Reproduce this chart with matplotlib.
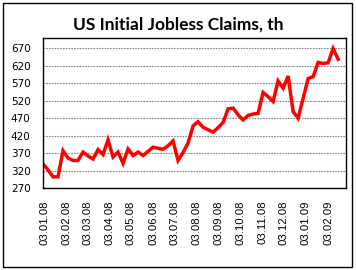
import matplotlib
matplotlib.use("Agg")
import matplotlib.pyplot as plt
import matplotlib.dates as mdates
from matplotlib.patches import Rectangle
import pandas as pd

# weekly initial jobless claims, thousands
claims = [339, 322, 302, 302, 377, 356, 349, 349, 373, 362, 353, 380, 366, 408,
          359, 373, 341, 382, 363, 373, 363, 375, 387, 384, 381, 391, 405,
          349, 372, 399, 448, 460, 444, 437, 430, 443, 458, 497, 499, 480, 465,
          478, 482, 484, 544, 532, 518, 577, 556, 591, 489, 470, 527, 584, 589,
          630, 627, 629, 670, 639]
weeks = pd.date_range("2008-01-01", periods=len(claims), freq="7D")
tick_dates = pd.date_range("2008-01-01", "2009-02-01", freq="MS") + pd.Timedelta(days=2)
y_ticks = list(range(270, 671, 50))

fig = plt.figure(figsize=(3.56, 2.70), dpi=100)
fig.patches.append(Rectangle((3 / 356, 3 / 270), 349 / 356, 264 / 270,
                             transform=fig.transFigure, fill=False,
                             edgecolor="black", linewidth=1))

ax = fig.add_axes([43 / 356, 82 / 270, 303 / 356, 150 / 270])
ax.plot(weeks, claims, color="#ff0000", linewidth=2.5, solid_joinstyle="miter")

ax.set_ylim(270, 700)
ax.set_yticks(y_ticks)
ax.set_xlim(pd.Timestamp("2008-01-01"), pd.Timestamp("2009-02-28"))
ax.set_xticks(tick_dates)
ax.xaxis.set_major_formatter(mdates.DateFormatter("%d.%m.%y"))

ax.grid(axis="y", color="#888888", linestyle=(0, (1.5, 1)), linewidth=0.8)
ax.set_axisbelow(True)
for s in ax.spines.values():
    s.set_linewidth(1)
    s.set_color("black")

ax.tick_params(axis="both", length=0)
ax.tick_params(axis="y", labelsize=7.5, pad=9)
ax.tick_params(axis="x", labelsize=8.2, pad=9, rotation=90)
for lbl in ax.get_xticklabels():
    lbl.set_fontfamily("Liberation Sans")
for lbl in ax.get_yticklabels():
    lbl.set_fontfamily("DejaVu Sans")

fig.text(0.5, 1 - 25 / 270, "US Initial Jobless Claims, th", ha="center",
         va="center", fontsize=12.5, fontweight="bold", family="Lato")

fig.savefig("out.png", dpi=100)
